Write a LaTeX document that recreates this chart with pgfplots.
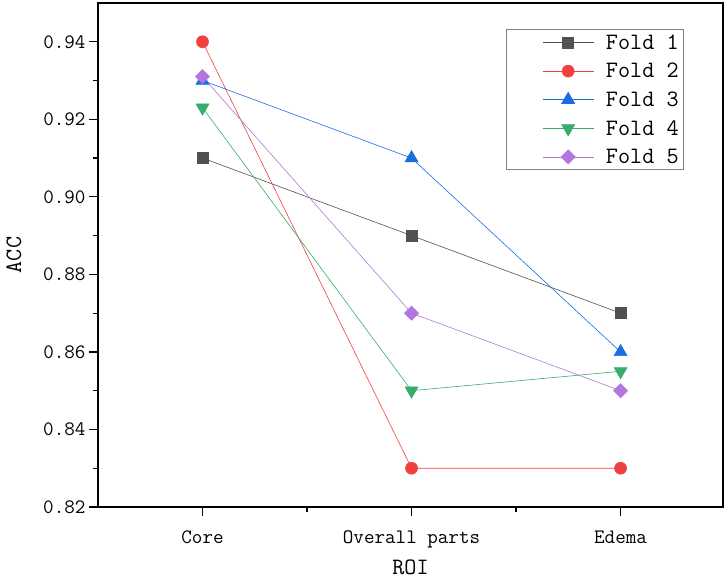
\documentclass[border=0pt]{standalone}
\usepackage{pgfplots}
\pgfplotsset{compat=1.18}
\definecolor{c1}{HTML}{515151}
\definecolor{c2}{HTML}{F14040}
\definecolor{c3}{HTML}{1A6FDF}
\definecolor{c4}{HTML}{37AD6B}
\definecolor{c5}{HTML}{B177DE}
\begin{document}
\begin{tikzpicture}
\begin{axis}[
  scale only axis, width=625pt, height=504pt,
  xmin=-0.5, xmax=2.49, ymin=0.82, ymax=0.95,
  xtick={0,1,2}, xticklabels={Core, Overall parts, Edema},
  ytick={0.82,0.84,0.86,0.88,0.90,0.92,0.94},
  minor xtick={0.5,1.5}, minor ytick={0.83,0.85,0.87,0.89,0.91,0.93},
  tick align=outside, xtick pos=bottom, ytick pos=left,
  major tick length=9pt, minor tick length=5pt,
  every tick/.style={black, line width=1.2pt},
  axis line style={line width=1.3pt},
  tick label style={font=\fontsize{20.5}{22}\ttfamily},
  xticklabel style={yshift=-11pt},
  yticklabel style={/pgf/number format/.cd, fixed, fixed zerofill, precision=2, assume math mode=true},
  xlabel=ROI, ylabel=ACC,
  label style={font=\fontsize{23.5}{26}\ttfamily},
  xlabel style={at={(axis description cs:0.5,-0.119)}, anchor=center},
  ylabel style={at={(axis description cs:-0.1344,0.5)}, anchor=center},
  legend style={at={(1,1)}, anchor=north east, xshift=-39pt, yshift=-26pt,
    draw=gray, line width=0.8pt, font=\fontsize{23.5}{26}\ttfamily,
    cells={anchor=west}, inner sep=3pt, column sep=10pt, row sep=8.5pt},
  legend image code/.code={\path (-33pt,0pt); \draw[mark repeat=2,mark phase=2,#1] plot coordinates {(0pt,0pt)(25.5pt,0pt)(51pt,0pt)};},
]
\addplot[c1, line width=0.6pt, mark=square*, mark size=5.5pt, mark options={solid, fill=c1}] coordinates {(0,0.91)(1,0.89)(2,0.87)};
\addlegendentry{Fold 1}
\addplot[c2, line width=0.6pt, mark=*, mark size=6pt, mark options={solid, fill=c2}] coordinates {(0,0.94)(1,0.83)(2,0.83)};
\addlegendentry{Fold 2}
\addplot[c3, line width=0.6pt, mark=triangle*, mark size=7.5pt, mark options={solid, fill=c3}] coordinates {(0,0.93)(1,0.91)(2,0.86)};
\addlegendentry{Fold 3}
\addplot[c4, line width=0.6pt, mark=triangle*, mark size=7.5pt, mark options={solid, fill=c4, rotate=180}] coordinates {(0,0.923)(1,0.85)(2,0.855)};
\addlegendentry{Fold 4}
\addplot[c5, line width=0.6pt, mark=square*, mark size=5pt, mark options={solid, fill=c5, rotate=45}] coordinates {(0,0.931)(1,0.87)(2,0.85)};
\addlegendentry{Fold 5}
\end{axis}
\pgfresetboundingbox
\path[use as bounding box] (-98pt,-73pt) rectangle (630pt,507pt);
\end{tikzpicture}
\end{document}
